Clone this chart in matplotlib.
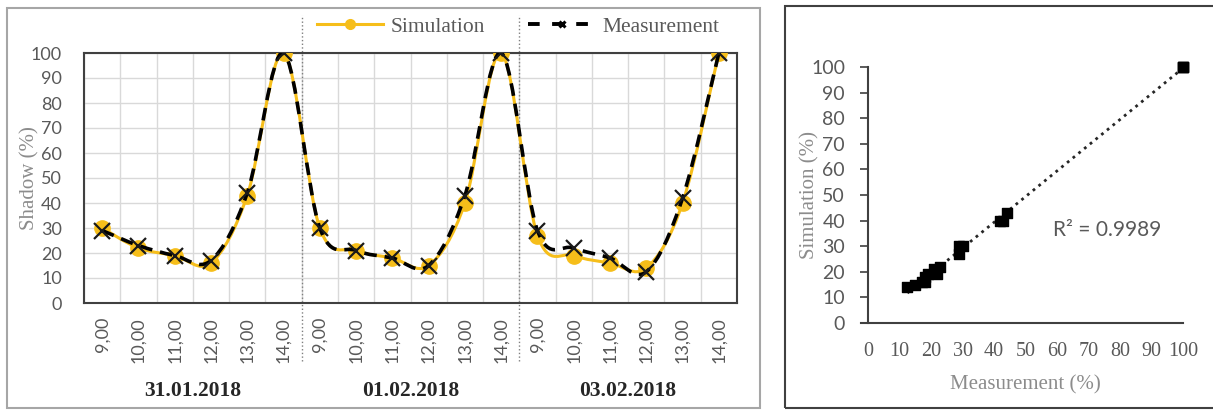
import numpy as np
import matplotlib
matplotlib.use("Agg")
import matplotlib.pyplot as plt
from matplotlib.path import Path
from matplotlib.patches import PathPatch, Rectangle
from matplotlib.lines import Line2D

# data
hours = ['9,00', '10,00', '11,00', '12,00', '13,00', '14,00']
days = ['31.01.2018', '01.02.2018', '03.02.2018']
simulation = [30, 22, 19, 16, 43, 100,
              30, 21, 18, 15, 40, 100,
              27, 19, 16, 14, 40, 100]
measurement = [29, 23, 19, 17, 44, 100,
               30, 21, 18, 15, 43, 100,
               29, 22, 18, 12.5, 42, 100]
r2_text = 'R² = 0.9989'

GOLD = '#F6BE1A'
GRAY = '#595959'
LGRAY = '#8c8c8c'
SANS = 'Lato'
SERIF = 'Liberation Serif'
W, H = 1213, 411


def smooth_path(xs, ys):
    # excel style smoothed line -> cubic bezier segments
    pts = np.column_stack([xs, ys]).astype(float)
    n = len(pts)
    verts = [pts[0]]
    codes = [Path.MOVETO]
    for i in range(n - 1):
        p0 = pts[i - 1] if i > 0 else pts[i]
        p1 = pts[i]
        p2 = pts[i + 1]
        p3 = pts[i + 2] if i + 2 < n else pts[i + 1]
        c1 = p1 + (p2 - p0) / 6.0
        c2 = p2 - (p3 - p1) / 6.0
        verts += [c1, c2, p2]
        codes += [Path.CURVE4] * 3
    return Path(verts, codes)


fig = plt.figure(figsize=(W / 100, H / 100), dpi=100)

# panel frames
fig.patches.append(Rectangle((7/W, 3/H), 753/W, 400/H, transform=fig.transFigure,
                             fill=False, edgecolor='#a6a6a6', lw=1.5))
fig.patches.append(Rectangle((785/W, 3/H), 440/W, 402/H, transform=fig.transFigure,
                             fill=False, edgecolor='#404040', lw=1.5))

# ---- left: time series
ax = fig.add_axes([84/W, 1 - 303/H, 653/W, 250/H])
x = np.arange(len(simulation))
ax.set_xlim(-0.5, len(simulation) - 0.5)
ax.set_ylim(0, 100)
ax.set_yticks(range(0, 101, 10))
ax.set_xticks(x, labels=hours * len(days), rotation=90)
ax.set_xticks(np.arange(-0.5, len(simulation), 1), minor=True)
ax.tick_params(axis='both', which='both', length=0, labelsize=13, labelcolor=GRAY,
               labelfontfamily=SANS)
ax.tick_params(axis='x', pad=10)
ax.tick_params(axis='y', pad=16)
ax.grid(True, axis='y', color='#d9d9d9', lw=1)
ax.grid(True, axis='x', which='minor', color='#d9d9d9', lw=1)
ax.set_axisbelow(True)
for s in ax.spines.values():
    s.set_color('#404040')
    s.set_linewidth(1.5)
ax.set_ylabel('Shadow (%)', fontfamily=SERIF, fontsize=15, color=LGRAY)
ax.yaxis.set_label_coords((39 - 84) / 653, 0.5)

ax.add_patch(PathPatch(smooth_path(x, simulation), fill=False, edgecolor=GOLD, lw=2.2, zorder=3))
ax.plot(x, simulation, ls='none', marker='o', ms=11, color=GOLD, zorder=4)
ax.add_patch(PathPatch(smooth_path(x, measurement), fill=False, edgecolor='black', lw=2.6,
                       ls=(0, (3.5, 2.2)), zorder=5))
ax.plot(x, measurement, ls='none', marker='x', ms=12, mew=1.6, color='#1a1a1a', zorder=6)

# day separators and labels
for k in range(1, len(days)):
    ax.plot([6 * k - 0.5] * 2, [-23, 115], ls=':', color='#7f7f7f', lw=1, clip_on=False)
for k, d in enumerate(days):
    ax.text(6 * k + 2.5, -35, d, ha='center', va='center', fontfamily=SERIF,
            fontweight='bold', fontsize=15.5, color='#262626', transform=ax.transData)

handles = [Line2D([], [], color=GOLD, lw=2.2, marker='o', ms=7),
           Line2D([], [], color='black', lw=2.8, ls=(0, (3.0, 3.2)), marker='x', ms=5, mew=2.2)]
leg = fig.legend(handles, ['Simulation', 'Measurement'], loc='center',
                 bbox_to_anchor=(518/W, 1 - 27/H), ncol=2, frameon=False, handlelength=3.1,
                 handletextpad=0.35, columnspacing=2.0,
                 prop={'family': SERIF, 'size': 15.5})
for t in leg.get_texts():
    t.set_color(GRAY)

# ---- right: scatter
bx = fig.add_axes([868/W, 1 - 323/H, 315/W, 256/H])
bx.scatter(measurement, simulation, marker='s', s=60, color='black', zorder=3, clip_on=False)
coef = np.polyfit(measurement, simulation, 1)
fx = np.array([min(measurement), max(measurement)])
bx.plot(fx, np.polyval(coef, fx), ls=':', color='#262626', lw=2)
bx.set_xlim(0, 100)
bx.set_ylim(0, 100)
bx.set_xticks(range(0, 101, 10))
bx.set_yticks(range(0, 101, 10))
bx.spines['top'].set_visible(False)
bx.spines['right'].set_visible(False)
for s in ('left', 'bottom'):
    bx.spines[s].set_color('#404040')
    bx.spines[s].set_linewidth(1.5)
bx.spines['bottom'].set_bounds(-2.3, 100)
bx.tick_params(axis='y', length=5.5, width=1.2, color='#404040', pad=11,
               labelsize=14, labelcolor=GRAY, labelfontfamily=SANS)
bx.tick_params(axis='x', length=0, pad=14, labelsize=14.5, labelcolor=GRAY,
               labelfontfamily=SERIF)
bx.set_xlabel('Measurement (%)', fontfamily=SERIF, fontsize=15, color=LGRAY, labelpad=10)
bx.set_ylabel('Simulation (%)', fontfamily=SERIF, fontsize=15, color=LGRAY)
bx.yaxis.set_label_coords((819 - 868) / 315, 0.5)
bx.text(76, 36.5, r2_text, ha='center', va='center', fontfamily=SANS, fontsize=15, color=GRAY)

fig.savefig('out.png', dpi=100)
